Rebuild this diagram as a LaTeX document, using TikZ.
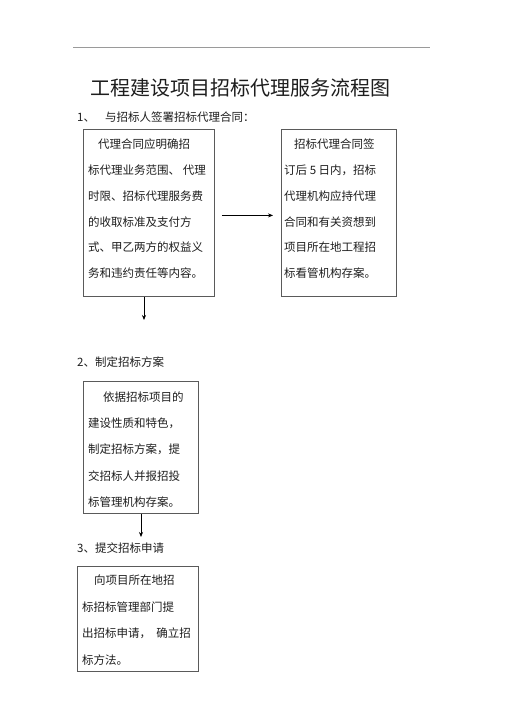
\documentclass[tikz,border=0pt]{standalone}
\usepackage{fontspec}
\newfontfamily\cjk{Noto Sans CJK SC}
\usetikzlibrary{arrows.meta}
\definecolor{boxgray}{HTML}{5A5A5A}
\definecolor{rulegray}{HTML}{9A9A9A}
\definecolor{textc}{HTML}{1E1E1E}
\begin{document}
\begin{tikzpicture}[x=1pt,y=-1pt,
  box/.style={draw=boxgray, line width=0.8pt, inner sep=0pt, anchor=north west},
  txt/.style={font=\cjk\fontsize{11.5}{14}\selectfont, text=textc, inner sep=0pt, anchor=base west},
  arr/.style={-{Stealth[length=5pt,width=4pt]}, line width=0.7pt, draw=black}]
\useasboundingbox[fill=white] (0,0) rectangle (505,714);
% top rule
\coordinate (r1) at (73,47);
\coordinate (r2) at (430,47);
\draw[rulegray, line width=0.6pt] (r1) -- (r2);
% title
\node[font=\cjk\fontsize{20}{24}\selectfont, text=textc, inner sep=0pt, anchor=base] (title) at (240,95.6) {工程建设项目招标代理服务流程图};
% headings
\node[txt] (h1) at (77,121.4) {\makebox[28pt][l]{1、}与招标人签署招标代理合同：};
\node[txt] (h2) at (77,366.4) {2、制定招标方案};
\node[txt] (h3) at (77,552.4) {3、提交招标申请};
% boxes
\node[box, minimum width=131pt, minimum height=167pt] (b1) at (83,129) {};
\node[box, minimum width=115pt, minimum height=167pt] (b2) at (281,129) {};
\node[box, minimum width=115pt, minimum height=132pt] (b3) at (83,381) {};
\node[box, minimum width=121pt, minimum height=105pt] (b4) at (77,566) {};
% box 1 text
\foreach \x/\t [count=\i] in {98/代理合同应明确招, 88/标代理业务范围、\ 代理, 88/时限、招标代理服务费, 88/的收取标准及支付方, 88/式、甲乙两方的权益义, 88/务和违约责任等内容。}
  \node[txt] (ta\i) at (\x,148.7+25.8*\i-25.8) {\t};
% box 2 text
\foreach \x/\t [count=\i] in {294/招标代理合同签, 284/订后 5 日内，招标, 284/代理机构应持代理, 284/合同和有关资想到, 284/项目所在地工程招, 284/标看管机构存案。}
  \node[txt] (tb\i) at (\x,148.7+25.8*\i-25.8) {\t};
% box 3 text
\foreach \x/\t [count=\i] in {103/依据招标项目的, 88/建设性质和特色，, 88/制定招标方案，提, 88/交招标人并报招投, 88/标管理机构存案。}
  \node[txt] (tc\i) at (\x,401.4+26.2*\i-26.2) {\t};
% box 4 text
\foreach \x/\t [count=\i] in {94/向项目所在地招, 82/标招标管理部门提, 82/出招标申请，\ \ 确立招, 82/标方法。}
  \node[txt] (td\i) at (\x,584.4+26.6*\i-26.6) {\t};
% connectors
\draw[arr] ([xshift=7pt,yshift=-2.5pt]b1.east) -- ([xshift=-8pt,yshift=-2.5pt]b2.west);
\coordinate (e1) at (144,320);
\draw[arr] (b1.south -| e1) -- (e1);
\coordinate (e2) at (141,537);
\draw[arr] (b3.south -| e2) -- (e2);
\end{tikzpicture}
\end{document}
